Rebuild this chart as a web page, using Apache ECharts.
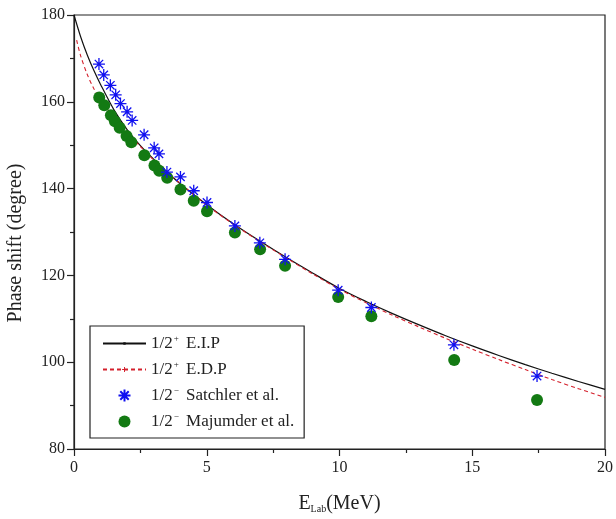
<!DOCTYPE html>
<html>
<head>
<meta charset="utf-8">
<script src="https://cdn.jsdelivr.net/npm/echarts@6/dist/echarts.min.js"></script>
<style>
html,body{margin:0;padding:0;background:#fff;}
#chart{width:616px;height:519px;}
</style>
</head>
<body>
<div id="chart"></div>
<script>
// ---- data ----
var eipE = [0, 0.25, 0.5, 0.75, 1, 1.5, 2, 2.5, 3, 3.5, 4, 5, 6, 7, 8, 9, 10, 11, 12, 13, 14, 15, 16, 17, 18, 19, 20];
var eipPhase = [180, 175, 170.8, 167.2, 164.0, 158.2, 153.6, 149.9, 146.8, 143.9, 141.1, 136.3, 131.9, 127.9, 124.1, 120.5, 117.0, 114.0, 111.2, 108.6, 106.1, 103.75, 101.55, 99.45, 97.45, 95.55, 93.75];

var edpE = [0.1, 0.25, 0.5, 0.75, 1, 1.5, 2, 2.5, 3, 3.5, 4, 5, 6, 7, 8, 9, 10, 11, 12, 13, 14, 15, 16, 17, 18, 19, 20];
var edpPhase = [174.2, 170.6, 166.3, 163.0, 160.4, 156.4, 152.9, 149.7, 146.6, 143.8, 141.2, 136.2, 131.8, 127.8, 124.0, 120.3, 116.8, 113.7, 110.8, 108.1, 105.5, 103.0, 100.6, 98.3, 96.0, 93.9, 91.9];

var satchlerE = [0.94, 1.12, 1.37, 1.57, 1.75, 2.0, 2.19, 2.64, 3.02, 3.2, 3.5, 4.01, 4.51, 5.01, 6.06, 7.0, 7.95, 9.95, 11.2, 14.31, 17.44];
var satchlerPhase = [168.7, 166.2, 163.8, 161.6, 159.6, 157.7, 155.7, 152.4, 149.4, 148.0, 143.8, 142.7, 139.5, 136.8, 131.4, 127.5, 123.7, 116.6, 112.6, 104.0, 96.8];

var majumderE = [0.95, 1.14, 1.39, 1.54, 1.72, 1.98, 2.16, 2.65, 3.03, 3.21, 3.51, 4.01, 4.51, 5.01, 6.06, 7.01, 7.95, 9.95, 11.2, 14.32, 17.44];
var majumderPhase = [161.0, 159.2, 156.9, 155.5, 154.0, 152.1, 150.7, 147.7, 145.3, 144.1, 142.5, 139.8, 137.2, 134.8, 129.9, 126.0, 122.2, 115.0, 110.6, 100.5, 91.3];

var seriesNames = ['E.I.P', 'E.D.P', 'Satchler et al.', 'Majumder et al.'];
var seriesSpin = ['+', '+', '\u2212', '\u2212'];
var xTitle = 'E{sub|Lab}(MeV)';
var yTitle = 'Phase shift (degree)';

function pairs(xs, ys) { return xs.map(function (x, i) { return [x, ys[i]]; }); }

var FONT = '"Liberation Serif", "Times New Roman", serif';
var starPath = 'path://M10 0 L10 20 M0 10 L20 10 M3 3 L17 17 M17 3 L3 17';
var dotPath = 'path://M0 0 M8 8 M3 3 L5 3 L5 5 L3 5 Z';
var plusPath = 'path://M0 0 M10 10 M4.5 2.5 L5.5 2.5 L5.5 4.5 L7.5 4.5 L7.5 5.5 L5.5 5.5 L5.5 7.5 L4.5 7.5 L4.5 5.5 L2.5 5.5 L2.5 4.5 L4.5 4.5 Z';

var chart = echarts.init(document.getElementById('chart'), null, {renderer: 'canvas'});
chart.setOption({
  backgroundColor: '#fff',
  animation: false,
  grid: {left: 74, right: 9, top: 15, bottom: 70, show: true, borderColor: '#222', borderWidth: 1.2, backgroundColor: 'transparent'},
  xAxis: {
    type: 'value', min: 0, max: 20, interval: 5,
    axisLine: {lineStyle: {color: '#222', width: 1.2}},
    axisTick: {inside: false, length: 7, lineStyle: {color: '#222', width: 1.2}},
    minorTick: {show: true, splitNumber: 2, length: 4, lineStyle: {color: '#222', width: 1.2}},
    splitLine: {show: false},
    axisLabel: {margin: 11, color: '#222', fontFamily: FONT, fontSize: 16},
    name: xTitle, nameLocation: 'middle', nameGap: 45,
    nameTextStyle: {color: '#222', fontFamily: FONT, fontSize: 20,
      rich: {sub: {fontSize: 10, fontFamily: FONT, color: '#222', verticalAlign: 'bottom', padding: [10, 0, 0, 0]}}}
  },
  yAxis: {
    type: 'value', min: 80, max: 180, interval: 20,
    axisLine: {lineStyle: {color: '#222', width: 1.2}},
    axisTick: {inside: false, length: 7, lineStyle: {color: '#222', width: 1.2}},
    minorTick: {show: true, splitNumber: 2, length: 4, lineStyle: {color: '#222', width: 1.2}},
    splitLine: {show: false},
    axisLabel: {margin: 9, color: '#222', fontFamily: FONT, fontSize: 16}
  },
  graphic: [{
    type: 'text', x: 16, y: 243, rotation: Math.PI / 2,
    style: {text: yTitle, fill: '#222', font: '20px ' + FONT, textAlign: 'center', textVerticalAlign: 'middle'}
  }],
  legend: {
    orient: 'vertical', left: 90, top: 326, align: 'left',
    padding: [8, 10, 8, 12], itemGap: 8, itemWidth: 43, itemHeight: 12,
    borderColor: '#222', borderWidth: 1.2, backgroundColor: '#fff',
    data: seriesNames,
    formatter: function (name) {
      var i = seriesNames.indexOf(name);
      return '1/2{sup|' + seriesSpin[i] + '} ' + name;
    },
    textStyle: {color: '#222', fontFamily: FONT, fontSize: 17,
      rich: {sup: {fontSize: 9, fontFamily: FONT, color: '#222', verticalAlign: 'top', padding: [0, 3, 10, 1]}}}
  },
  series: [
    {name: seriesNames[0], type: 'line', data: pairs(eipE, eipPhase), smooth: 0.3,
     showSymbol: false, symbol: dotPath,
     itemStyle: {color: '#111'}, lineStyle: {color: '#111', width: 1.2}, z: 2},
    {name: seriesNames[1], type: 'line', data: pairs(edpE, edpPhase), smooth: 0.3,
     showSymbol: false, symbol: plusPath,
     itemStyle: {color: '#d4202c'}, lineStyle: {color: '#d4202c', width: 1.1, type: [4, 3]}, z: 3},
    {name: seriesNames[2], type: 'scatter', data: pairs(satchlerE, satchlerPhase),
     symbol: starPath, symbolSize: 12,
     itemStyle: {color: 'rgba(0,0,0,0)', borderColor: '#1010f0', borderWidth: 1.3, opacity: 1}, z: 5},
    {name: seriesNames[3], type: 'scatter', data: pairs(majumderE, majumderPhase),
     symbol: 'circle', symbolSize: 12,
     itemStyle: {color: '#137a13', opacity: 1}, z: 4}
  ]
});
</script>
</body>
</html>
